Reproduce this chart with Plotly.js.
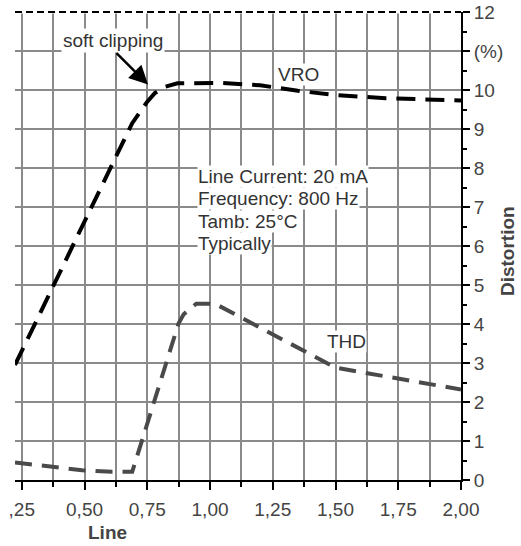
<!DOCTYPE html>
<html>
<head>
<meta charset="utf-8">
<script src="https://cdn.plot.ly/plotly-3.0.1.min.js"></script>
<style>html,body{margin:0;padding:0;background:#fff;}#chart{width:521px;height:546px;}</style>
</head>
<body>
<div id="chart"></div>
<script>
// Line current (x) values and curves
const vroX = [0.223, 0.45, 0.60, 0.69, 0.75, 0.78, 0.82, 0.87, 1.05, 1.20, 1.35, 1.50, 1.70, 2.00];
const vroY = [2.95, 5.95, 7.95, 9.15, 9.70, 9.92, 10.08, 10.17, 10.18, 10.12, 9.98, 9.87, 9.79, 9.73];
const thdX = [0.223, 0.36, 0.49, 0.61, 0.69, 0.875, 0.895, 0.945, 1.02, 1.50, 2.00];
const thdY = [0.45, 0.34, 0.25, 0.21, 0.21, 4.02, 4.25, 4.52, 4.52, 2.88, 2.32];

const xTickVals = [0.25, 0.5, 0.75, 1.0, 1.25, 1.5, 1.75, 2.0];
const xTickText = [',25', '0,50', '0,75', '1,00', '1,25', '1,50', '1,75', '2,00'];
const yTickVals = [0, 1, 2, 3, 4, 5, 6, 7, 8, 9, 10, 11, 12];
const yTickText = ['0', '1', '2', '3', '4', '5', '6', '7', '8', '9', '10', '(%)', '12'];

const conditions = ['Line Current: 20 mA', 'Frequency: 800 Hz', 'Tamb: 25°C', 'Typically'];
const conditionY = [7.78, 7.23, 6.63, 6.07];

const FONT = '"Liberation Sans", Arial, sans-serif';
const GRID = '#8a8a8a';
const FS = 19;

const traces = [
  {x: vroX, y: vroY, type: 'scatter', mode: 'lines', name: 'VRO',
   line: {color: '#000', width: 4, dash: '19px,10px'}, showlegend: false},
  {x: thdX, y: thdY, type: 'scatter', mode: 'lines', name: 'THD',
   line: {color: '#4a4a4a', width: 4, dash: '17px,10px'}, showlegend: false}
];

const annotations = conditions.map((t, i) => ({
  x: 0.947, y: conditionY[i], xref: 'x', yref: 'y', text: t, showarrow: false,
  xanchor: 'left', yanchor: 'middle', bgcolor: '#fff', borderpad: 0,
  font: {family: FONT, size: FS, color: '#333'}
}));
annotations.push(
  {x: 0.614, y: 11.26, xref: 'x', yref: 'y', text: 'soft clipping', showarrow: false,
   xanchor: 'center', yanchor: 'middle',
   bgcolor: '#fff', borderpad: 1, font: {family: FONT, size: FS, color: '#333'}},
  {x: 0.753, y: 10.14, xref: 'x', yref: 'y', text: '', showarrow: true,
   ax: -33, ay: -33, arrowhead: 2, arrowsize: 1.5, arrowwidth: 2.5, arrowcolor: '#000'},
  {x: 1.351, y: 10.39, xref: 'x', yref: 'y', text: 'VRO', showarrow: false,
   xanchor: 'center', yanchor: 'middle',
   bgcolor: '#fff', borderpad: 0, font: {family: FONT, size: FS, color: '#333'}},
  {x: 1.542, y: 3.54, xref: 'x', yref: 'y', text: 'THD', showarrow: false,
   xanchor: 'center', yanchor: 'middle',
   bgcolor: '#fff', borderpad: 0, font: {family: FONT, size: FS, color: '#333'}},
  {x: 0.2085, y: -0.113, xref: 'paper', yref: 'paper', text: '<b>Line</b>', showarrow: false,
   xanchor: 'center', yanchor: 'middle',
   font: {family: FONT, size: FS, color: '#444'}},
  {x: 1.103, y: 0.489, xref: 'paper', yref: 'paper', text: '<b>Distortion</b>', showarrow: false,
   xanchor: 'center', yanchor: 'middle',
   textangle: -90, font: {family: FONT, size: FS, color: '#444'}}
);

const layout = {
  width: 521, height: 546,
  margin: {l: 15, r: 60, t: 12, b: 66},
  paper_bgcolor: '#fff', plot_bgcolor: '#fff',
  showlegend: false,
  xaxis: {
    range: [0.223, 2.0], tickmode: 'array', tickvals: xTickVals, ticktext: xTickText,
    ticks: 'outside', ticklen: 8, tickwidth: 2, tickcolor: '#000',
    showline: true, linecolor: '#000', linewidth: 2,
    showgrid: true, gridcolor: GRID, gridwidth: 2, zeroline: false,
    ticklabelstandoff: 3,
    tickfont: {family: FONT, size: FS, color: '#444'},
    minor: {tick0: 0.125, dtick: 0.125, ticks: 'outside', ticklen: 5, tickwidth: 2, tickcolor: '#000',
            showgrid: true, gridcolor: GRID, gridwidth: 2}
  },
  yaxis: {
    side: 'right', range: [0, 12], tickmode: 'array', tickvals: yTickVals, ticktext: yTickText,
    ticks: 'outside', ticklen: 7, tickwidth: 2, tickcolor: '#000',
    showline: true, linecolor: '#000', linewidth: 2,
    showgrid: true, gridcolor: GRID, gridwidth: 2, zeroline: false,
    tickfont: {family: FONT, size: FS, color: '#444'},
    minor: {dtick: 0.5, ticks: 'outside', ticklen: 4, tickwidth: 2, tickcolor: '#000', showgrid: false}
  },
  shapes: [
    {type: 'line', xref: 'paper', yref: 'paper', x0: 0, x1: 1, y0: 1, y1: 1,
     line: {color: '#fff', width: 3}, layer: 'above'},
    {type: 'line', xref: 'paper', yref: 'paper', x0: 0, x1: 1, y0: 1, y1: 1,
     line: {color: '#000', width: 2, dash: '7px,4px'}, layer: 'above'}
  ],
  annotations: annotations
};

Plotly.newPlot('chart', traces, layout, {displayModeBar: false, staticPlot: true});
</script>
</body>
</html>
